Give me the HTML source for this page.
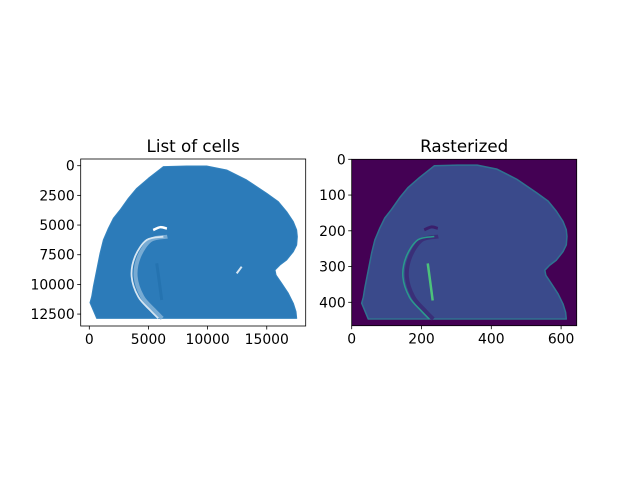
<!DOCTYPE html>
<html><head><meta charset="utf-8"><style>
body{margin:0;background:#fff}
svg{display:block}
text{font-family:"DejaVu Sans","Liberation Sans",sans-serif;fill:#000}
</style></head><body>
<svg id="fig" width="640" height="480" xmlns="http://www.w3.org/2000/svg"></svg>
<script>
// outline of the tissue section in cell coordinates
const outlineX = [59,200,341,623,905,1186,1609,2032,2595,3300,4004,4991,5977,6259,8231,9922,11613,13304,14995,15981,16685,17249,17531,17587,17531,17249,16685,16122,15700,15784,16263,16826,17249,17474,17531,623];
const outlineY = [11537,11032,10190,8786,7382,6258,5276,4433,3731,2748,1906,1064,305,81,25,25,362,1204,2327,3029,3871,4714,5416,5978,6680,7241,7943,8364,8786,9207,9909,10751,11594,12296,12857,12857];
// hippocampal arc (cell coords)
const arcX = [6260,4850,3860,3580,4140,5130,5830];
const arcY = [5980,6260,7670,9350,11040,12160,12860];
const innerX = [5700,5850,6000,6120];
const innerY = [8220,9300,10400,11310];
const gapX = [5400,6000,6560];
const gapY = [5420,5180,5300];
const notchX = [12460,12880];
const notchY = [9070,8510];
const leftXTicks = [0,5000,10000,15000];
const leftYTicks = [0,2500,5000,7500,10000,12500];
const rightXTicks = [0,200,400,600];
const rightYTicks = [0,100,200,300,400];

const NS="http://www.w3.org/2000/svg";
const svg=document.getElementById('fig');
function mk(tag,attrs,parent){const e=document.createElementNS(NS,tag);for(const k in attrs)e.setAttribute(k,attrs[k]);(parent||svg).appendChild(e);return e;}

const L={x0:80.7,x1:305.7,y0:159,y1:326};
const lx=v=>89.3+v*0.01183, ly=v=>165.7+v*0.01187;
const R={x0:351.7,x1:576.7,y0:159.3,y1:325.7};
const rx=v=>351.7+v*0.349, ry=v=>159.3+v*0.3575;
const toL=(x,y)=>[lx(x),ly(y)];
const toR=(x,y)=>[rx(x/29.8+26.6),ry(y/29.8+15.4)];

function smooth(X,Y,f){
  const P=X.map((x,i)=>f(x,Y[i]));const n=P.length;let d='M'+P[0].join(',');const t=0.33;
  for(let i=0;i<n-1;i++){
    const p1=P[i],p2=P[i+1],q0=i?P[i-1]:p1,q3=i<n-2?P[i+2]:p2;
    const c1=[p1[0]+(p2[0]-q0[0])*t/2,p1[1]+(p2[1]-q0[1])*t/2];
    const c2=[p2[0]-(q3[0]-p1[0])*t/2,p2[1]-(q3[1]-p1[1])*t/2];
    d+=' C'+c1.join(',')+' '+c2.join(',')+' '+p2.join(',');
  }
  return d;
}
function line(X,Y,f){return X.map((x,i)=>(i?'L':'M')+f(x,Y[i]).join(',')).join(' ');}
function poly(X,Y,f){return line(X,Y,f)+'Z';}

const defs=mk('defs',{});
const c1=mk('clipPath',{id:'clipL'},defs);mk('rect',{x:L.x0,y:L.y0,width:L.x1-L.x0,height:L.y1-L.y0},c1);
const c2=mk('clipPath',{id:'clipR'},defs);mk('rect',{x:R.x0,y:R.y0,width:R.x1-R.x0,height:R.y1-R.y0},c2);

// --- left chart
const gl=mk('g',{"clip-path":"url(#clipL)"});


const shapeL=mk('path',{d:poly(outlineX,outlineY,toL),fill:'#2c7bb9',stroke:'#3584bf',"stroke-width":1,"stroke-linejoin":"round"},gl);


mk('path',{d:smooth(arcX,arcY,(x,y)=>{const p=toL(x,y);return [p[0]+4,p[1]];}),fill:'none',stroke:'#78abd3',"stroke-width":4},gl);
const a1=mk('path',{d:smooth(arcX,arcY,toL),fill:'none',stroke:'#d6e6f2',"stroke-width":1.8},gl);


const inL=mk('path',{d:smooth(innerX,innerY,toL),fill:'none',stroke:'#2573b0',"stroke-width":3},gl);


mk('path',{d:smooth(gapX,gapY,toL),fill:'none',stroke:'#fff',"stroke-width":2.5},gl);
mk('path',{d:line(notchX,notchY,toL),fill:'none',stroke:'#d8e7f3',"stroke-width":2},gl);
const fl=mk('rect',{x:L.x0,y:L.y0,width:L.x1-L.x0,height:L.y1-L.y0,fill:'none',stroke:'#000',"stroke-width":0.8});


const t1=mk('text',{x:(L.x0+L.x1)/2,y:152,"text-anchor":"middle","font-size":16.7});t1.textContent='List of cells';


leftXTicks.forEach(v=>{const x=lx(v);mk('line',{x1:x,x2:x,y1:L.y1,y2:L.y1+3.5,stroke:'#000',"stroke-width":0.8});
 const t=mk('text',{x:x,y:L.y1+18,"text-anchor":"middle","font-size":13.9});t.textContent=v;
 
 });
leftYTicks.forEach(v=>{const y=ly(v);mk('line',{x1:L.x0-3.5,x2:L.x0,y1:y,y2:y,stroke:'#000',"stroke-width":0.8});
 const t=mk('text',{x:L.x0-6,y:y+5,"text-anchor":"end","font-size":13.9});t.textContent=v;
 
 });

// --- right chart
const gr=mk('g',{"clip-path":"url(#clipR)"});


const bg=mk('rect',{x:R.x0,y:R.y0,width:R.x1-R.x0,height:R.y1-R.y0,fill:'#440154'},gr);


const shapeR=mk('path',{d:poly(outlineX,outlineY,toR),fill:'#3a4a8b',stroke:'#2f7290',"stroke-width":1.5,"stroke-linejoin":"round"},gr);


mk('path',{d:smooth(arcX,arcY,(x,y)=>{const p=toR(x,y);return [p[0]+4,p[1]];}),fill:'none',stroke:'#3a2f78',"stroke-width":4},gr);
mk('path',{d:smooth(arcX,arcY,toR),fill:'none',stroke:'#2a9a8c',"stroke-width":1.5},gr);
mk('path',{d:smooth(gapX,gapY,toR),fill:'none',stroke:'#3a1f6c',"stroke-width":3},gr);
const hl=mk('path',{d:smooth(innerX,innerY,toR),fill:'none',stroke:'#4cc27a',"stroke-width":2.5},gr);


const fr=mk('rect',{x:R.x0,y:R.y0,width:R.x1-R.x0,height:R.y1-R.y0,fill:'none',stroke:'#000',"stroke-width":0.8});


const t2=mk('text',{x:(R.x0+R.x1)/2,y:152,"text-anchor":"middle","font-size":16.7});t2.textContent='Rasterized';


rightXTicks.forEach(v=>{const x=rx(v);mk('line',{x1:x,x2:x,y1:R.y1,y2:R.y1+3.5,stroke:'#000',"stroke-width":0.8});
 const t=mk('text',{x:x,y:R.y1+18,"text-anchor":"middle","font-size":13.9});t.textContent=v;
 
 });
rightYTicks.forEach(v=>{const y=ry(v);mk('line',{x1:R.x0-3.5,x2:R.x0,y1:y,y2:y,stroke:'#000',"stroke-width":0.8});
 const t=mk('text',{x:R.x0-6,y:y+5,"text-anchor":"end","font-size":13.9});t.textContent=v;
 
 });
</script>
</body></html>
